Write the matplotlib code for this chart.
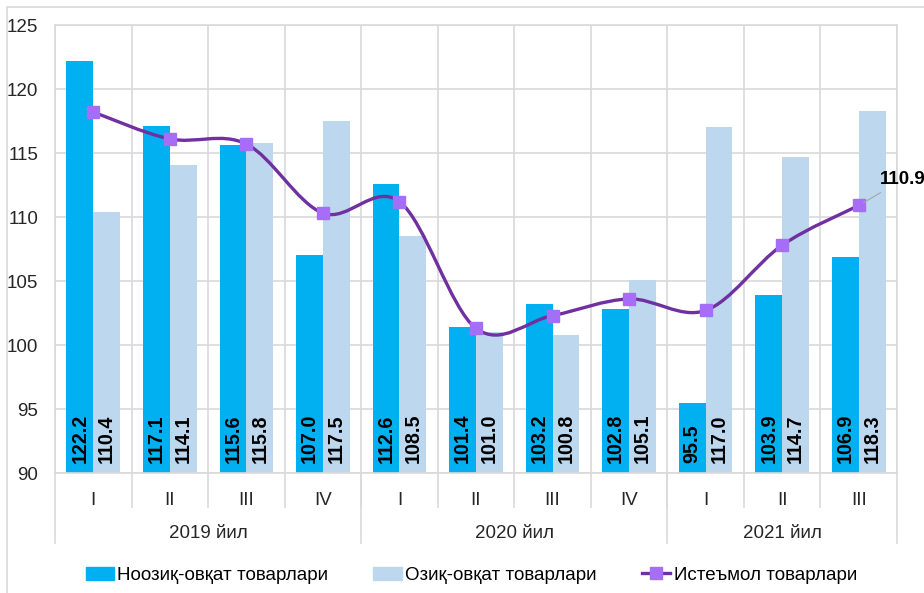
import numpy as np
import matplotlib
matplotlib.use('Agg')
import matplotlib.pyplot as plt
from matplotlib.path import Path
from matplotlib.patches import PathPatch, Rectangle
from matplotlib.lines import Line2D
import matplotlib.transforms as mtransforms

plt.rcParams['font.family'] = ['Liberation Sans', 'DejaVu Sans']

quarters = ['I', 'II', 'III', 'IV', 'I', 'II', 'III', 'IV', 'I', 'II', 'III']
years = ['2019 йил', '2020 йил', '2021 йил']
year_sizes = [4, 4, 3]
nonfood = [122.2, 117.1, 115.6, 107.0, 112.6, 101.4, 103.2, 102.8, 95.5, 103.9, 106.9]
food = [110.4, 114.1, 115.8, 117.5, 108.5, 101.0, 100.8, 105.1, 117.0, 114.7, 118.3]
consumer = [118.2, 116.1, 115.7, 110.3, 111.2, 101.3, 102.3, 103.6, 102.7, 107.8, 110.9]
names = ['Ноозиқ-овқат товарлари', 'Озиқ-овқат товарлари', 'Истеъмол товарлари']

c_nonfood = '#00B0F0'
c_food = '#BDD7EE'
c_line = '#7030A0'
c_marker = '#A66EF7'
c_grid = '#D9D9D9'
c_text = '#262626'

fig = plt.figure(figsize=(9.24, 5.93), dpi=100)
ax = fig.add_axes([55 / 924, 1 - 473 / 593, 842 / 924, 448 / 593])

x = np.arange(len(quarters))
w = 0.35
base = 90
ax.bar(x - w / 2, np.array(nonfood) - base, w, bottom=base, color=c_nonfood, zorder=2)
ax.bar(x + w / 2, np.array(food) - base, w, bottom=base, color=c_food, zorder=2)

for xi, a, b in zip(x, nonfood, food):
    ax.text(xi - w / 2, base + 0.75, f'{a:.1f}', rotation=90, ha='center', va='bottom',
            fontsize=14.2, fontweight='bold', color='black', zorder=4)
    ax.text(xi + w / 2, base + 0.75, f'{b:.1f}', rotation=90, ha='center', va='bottom',
            fontsize=14.2, fontweight='bold', color='black', zorder=4)

# smoothed line (bezier through the points, like Excel's smooth line)
pts = np.column_stack([x, consumer]).astype(float)
verts = [pts[0]]
codes = [Path.MOVETO]
n = len(pts)
for i in range(n - 1):
    p0, p1 = pts[i], pts[i + 1]
    prev = pts[i - 1] if i > 0 else p0
    nxt = pts[i + 2] if i + 2 < n else p1
    verts += [p0 + (p1 - prev) / 6, p1 - (nxt - p0) / 6, p1]
    codes += [Path.CURVE4] * 3
ax.add_patch(PathPatch(Path(verts, codes), facecolor='none', edgecolor=c_line, lw=2.4, zorder=5))
ax.plot(x, consumer, ls='none', marker='s', ms=8, mfc=c_marker, mec=c_marker, zorder=6)

ax.annotate(f'{consumer[-1]:.1f}', xy=(x[-1], consumer[-1]), xytext=(x[-1] + 0.27, consumer[-1] + 2.0),
            fontsize=13.5, fontweight='bold', color='black', va='center', ha='left',
            arrowprops=dict(arrowstyle='-', color='#A6A6A6', lw=0.8, shrinkA=2, shrinkB=4),
            annotation_clip=False, zorder=7)

ax.set_xlim(-0.5, len(quarters) - 0.5)
ax.set_ylim(90, 125)
ax.set_yticks(np.arange(90, 126, 5))
ax.set_xticks(x)
ax.set_xticklabels(quarters, fontsize=13.5, color=c_text)
ax.tick_params(axis='x', length=0, pad=14)
ax.tick_params(axis='y', length=0, pad=12, labelsize=13.5, labelcolor=c_text)
ax.set_xticks(np.arange(-0.5, len(quarters), 1), minor=True)
ax.tick_params(axis='x', which='minor', length=0)
ax.grid(axis='y', color=c_grid, lw=1.2, zorder=0)
ax.grid(axis='x', which='minor', color=c_grid, lw=1.2, zorder=0)
for s in ax.spines.values():
    s.set_color(c_grid)
    s.set_linewidth(1.2)
ax.set_axisbelow(True)

# multi-level category axis
trans = mtransforms.blended_transform_factory(ax.transData, ax.transAxes)
ax_h = 448
for b in np.arange(0.5, len(quarters) - 1, 1):
    ax.plot([b, b], [0, -34 / ax_h], transform=trans, color=c_grid, lw=1.2, clip_on=False)
edges = np.concatenate([[0], np.cumsum(year_sizes)]) - 0.5
for e in edges:
    ax.plot([e, e], [0, -70 / ax_h], transform=trans, color=c_grid, lw=1.2, clip_on=False)
for i, yl in enumerate(years):
    ax.text((edges[i] + edges[i + 1]) / 2, -61 / ax_h, yl, transform=trans, ha='center', va='center',
            fontsize=13.5, color=c_text)

# outer chart border
fig.add_artist(Rectangle((7 / 924, -0.1), 1.2, 1 - 7 / 593 + 0.1, transform=fig.transFigure,
                         facecolor='none', edgecolor=c_grid, lw=1.2))

handles = [Rectangle((0, 0), 1, 1, color=c_nonfood), Rectangle((0, 0), 1, 1, color=c_food),
           Line2D([], [], color=c_line, lw=2.4, marker='s', ms=8, mfc=c_marker, mec=c_marker)]
fig.legend(handles, names, loc='center', bbox_to_anchor=(0.51, 0.03), ncol=3, frameon=False,
           fontsize=13.5, handlelength=1.5, handletextpad=0.2, columnspacing=2.4)

fig.savefig('out.png', dpi=100)
